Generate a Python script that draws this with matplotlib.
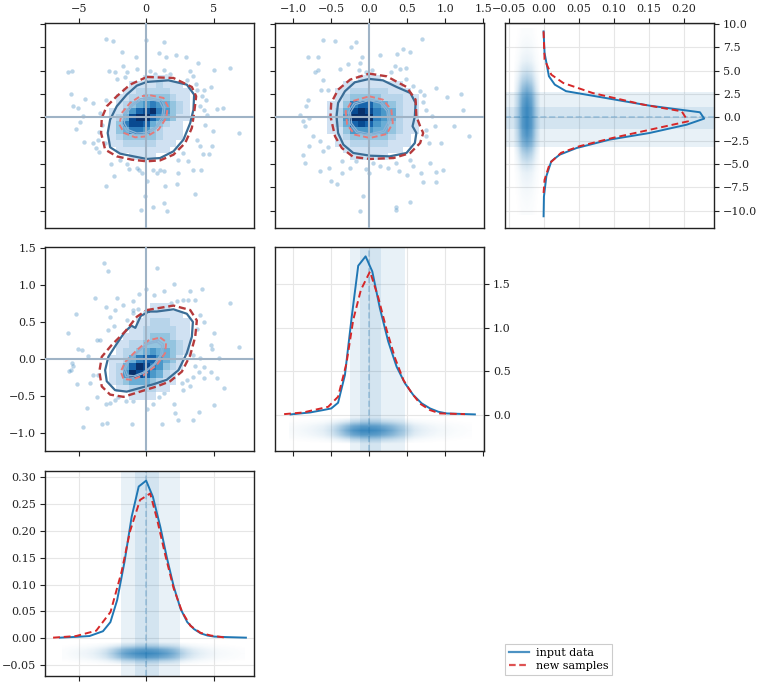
import numpy as np
import matplotlib
matplotlib.use('Agg')
import matplotlib.pyplot as plt
from matplotlib.colors import LinearSegmentedColormap
from matplotlib.lines import Line2D

plt.rcParams['font.family'] = ['DejaVu Serif']
plt.rcParams['font.size'] = 8
plt.rcParams['axes.edgecolor'] = '#222222'
plt.rcParams['axes.linewidth'] = 1.0
plt.rcParams['xtick.color'] = '#222222'
plt.rcParams['ytick.color'] = '#222222'
plt.rcParams['xtick.direction'] = 'out'
plt.rcParams['ytick.direction'] = 'out'

# ---------------- 1D marginals (bin centre, density) ----------------
A_in_x = [-6.4, -5.2, -4.2, -3.2, -2.65, -2.15, -1.6, -1.07, -0.55, 0.0, 0.5, 1.05, 1.55,
          2.05, 2.55, 3.05, 3.55, 4.05, 4.55, 5.05, 6.0, 7.4]
A_in_y = [0.001, 0.0025, 0.004, 0.013, 0.030, 0.071, 0.143, 0.227, 0.283, 0.294, 0.264, 0.208,
          0.149, 0.096, 0.055, 0.030, 0.017, 0.009, 0.005, 0.003, 0.002, 0.001]
A_new_x = [-6.9, -5.2, -3.7, -2.64, -1.82, -1.2, -0.45, 0.3, 0.8, 1.42, 2.04, 2.67, 3.29,
           4.04, 4.79, 5.9]
A_new_y = [0.001, 0.004, 0.014, 0.049, 0.124, 0.199, 0.258, 0.270, 0.223, 0.155, 0.093,
           0.049, 0.023, 0.010, 0.005, 0.001]

B_in_x = [-1.035, -0.78, -0.61, -0.50, -0.41, -0.32, -0.23, -0.145, -0.048, 0.04, 0.14, 0.25,
          0.36, 0.47, 0.58, 0.69, 0.80, 0.91, 1.02, 1.39]
B_in_y = [0.008, 0.030, 0.057, 0.076, 0.141, 0.458, 1.126, 1.706, 1.813, 1.641, 1.22, 0.84,
          0.553, 0.363, 0.229, 0.134, 0.076, 0.038, 0.019, 0.008]
B_new_x = [-1.12, -0.87, -0.54, -0.41, -0.30, -0.21, -0.11, 0.01, 0.12, 0.23, 0.34, 0.45,
           0.56, 0.67, 0.80, 0.93, 1.26]
B_new_y = [0.011, 0.030, 0.095, 0.21, 0.59, 1.09, 1.43, 1.64, 1.34, 0.97, 0.65, 0.40, 0.25,
           0.13, 0.057, 0.019, 0.011]

C_in_c = [9.2, 6.9, 4.4, 3.5, 2.8, 2.18, 1.25, 0.54, -0.14, -0.79, -1.68, -2.39, -3.29, -4.0,
          -4.71, -6.3, -8.5, -10.6]
C_in_d = [0.0, 0.0014, 0.0076, 0.016, 0.032, 0.08, 0.151, 0.223, 0.229, 0.204, 0.151, 0.094,
          0.047, 0.023, 0.011, 0.004, 0.0005, 0.0]
C_new_c = [9.2, 6.2, 4.57, 3.68, 2.6, 1.36, 0.64, -0.43, -2.2, -3.1, -3.8, -4.9, -6.7, -8.1]
C_new_d = [0.0, 0.0014, 0.011, 0.028, 0.07, 0.142, 0.197, 0.206, 0.099, 0.051, 0.025, 0.009,
           0.0014, 0.0]

# quantile bands (inner, outer) and medians
A_band_in = (-0.82, 0.97)
A_band_out = (-1.86, 2.53)
B_band_in = (-0.12, 0.16)
B_band_out = (-0.25, 0.47)
C_band_in = (-1.21, 1.07)
C_band_out = (-3.14, 2.75)
A_med, B_med, C_med = 0.0, 0.0, 0.0
truth_A, truth_B, truth_C = 0.0, 0.0, 0.0

# sample strips under the 1D curves (relative sample density on a regular grid)
strip_A_x = [-6.0, -5.5, -5.0, -4.5, -4.0, -3.5, -3.0, -2.5, -2.0, -1.5, -1.0, -0.5, 0.0, 0.5,
             1.0, 1.5, 2.0, 2.5, 3.0, 3.5, 4.0, 4.5, 5.0, 5.5, 6.0, 6.5, 7.0]
strip_A_w = [0.03, 0.05, 0.07, 0.09, 0.12, 0.18, 0.28, 0.45, 0.65, 0.8, 0.9, 0.95, 1.0, 0.95,
             0.9, 0.8, 0.65, 0.45, 0.3, 0.2, 0.14, 0.1, 0.07, 0.05, 0.04, 0.03, 0.02]
strip_A_d = [-0.050, -0.043, -0.036, -0.029, -0.022, -0.015, -0.008]
strip_B_x = [-1.0, -0.9, -0.8, -0.7, -0.6, -0.5, -0.4, -0.3, -0.2, -0.1, 0.0, 0.1, 0.2, 0.3,
             0.4, 0.5, 0.6, 0.7, 0.8, 0.9, 1.0, 1.1, 1.2, 1.3]
strip_B_w = [0.04, 0.06, 0.08, 0.11, 0.15, 0.25, 0.45, 0.7, 0.9, 1.0, 1.0, 0.95, 0.85, 0.7,
             0.5, 0.35, 0.2, 0.14, 0.1, 0.07, 0.06, 0.04, 0.03, 0.02]
strip_B_d = [-0.33, -0.28, -0.23, -0.18, -0.13, -0.08, -0.03]
strip_C_y = [-10, -9, -8, -7, -6, -5, -4, -3, -2, -1, 0, 1, 2, 3, 4, 5, 6, 7, 8, 9]
strip_C_w = [0.03, 0.04, 0.06, 0.09, 0.13, 0.25, 0.45, 0.7, 0.9, 1.0, 1.0, 1.0, 0.9, 0.7,
             0.45, 0.25, 0.13, 0.08, 0.05, 0.03]
strip_C_d = [-0.043, -0.0365, -0.030, -0.0235, -0.017, -0.0105, -0.004]
strip_profile = [0.0, 0.3, 0.8, 1.0, 0.8, 0.3, 0.0]

# ---------------- 2D histograms (rows from top, digit = relative count) ----------------
hist_AC_xedges = [-3.25, -2.75, -2.25, -1.75, -1.25, -0.75, -0.25, 0.25, 0.75, 1.25, 1.75,
                  2.25, 2.75, 3.25, 3.75]
hist_AC_yedges = [-4.55, -3.85, -3.15, -2.45, -1.75, -1.05, -0.35, 0.35, 1.05, 1.75, 2.45,
                  3.15, 3.85, 4.55]
hist_AC_rows = ["00000011110000",
                "00001111211100",
                "00011222221110",
                "00112233332110",
                "00123456543210",
                "01135789653210",
                "01248997543110",
                "01368874321100",
                "01346653211100",
                "01233333211100",
                "01122222111000",
                "00111111110000",
                "00001111000000"]

hist_BC_xedges = [-0.55, -0.45, -0.35, -0.25, -0.15, -0.05, 0.05, 0.15, 0.25, 0.35, 0.45,
                  0.55, 0.65]
hist_BC_yedges = hist_AC_yedges
hist_BC_rows = ["000011100000",
                "001111111100",
                "011222221110",
                "012333322211",
                "113677543211",
                "124898654211",
                "125999654211",
                "124787543211",
                "113555443211",
                "012333332110",
                "011222221110",
                "001111111100",
                "000111110000"]

hist_AB_xedges = hist_AC_xedges
hist_AB_yedges = [-0.55, -0.45, -0.35, -0.25, -0.15, -0.05, 0.05, 0.15, 0.25, 0.35, 0.45,
                  0.55, 0.65, 0.75]
hist_AB_rows = ["00000001110000",
                "00000011111100",
                "00000112221110",
                "00001122222110",
                "00011123332110",
                "00112233333210",
                "00122345443210",
                "01124677543100",
                "01247986532100",
                "01259875421000",
                "01234443211000",
                "00112222110000",
                "00001111000000"]

# ---------------- contours (data coordinates) ----------------
AC_blue_outer = [(0.05, 3.79), (1.66, 3.96), (3.02, 3.5), (3.56, 2.43), (3.51, 0.82),
                 (3.27, -0.61), (2.77, -2.39), (2.03, -3.64), (1.04, -4.36), (0.05, -4.46),
                 (-0.94, -4.18), (-1.93, -3.89), (-2.67, -3.21), (-2.85, -1.68), (-2.67, -0.25),
                 (-2.18, 1.18), (-1.44, 2.43), (-0.69, 3.39)]
AC_red_outer = [(0.05, 4.32), (2.03, 4.21), (3.39, 3.25), (3.71, 2.25), (3.56, 0.46),
                (3.39, -1.14), (2.9, -2.75), (2.03, -4.0), (1.04, -4.61), (0.05, -4.71),
                (-1.06, -4.54), (-2.18, -4.18), (-3.04, -3.46), (-3.34, -1.68), (-3.29, -0.07),
                (-2.92, 1.18), (-2.18, 2.25), (-1.19, 3.5)]
AC_red_inner = [(0.30, 2.36), (1.29, 2.07), (1.61, 1.18), (1.49, -0.07), (0.92, -1.32),
                (0.05, -2.04), (-0.82, -2.14), (-1.63, -1.68), (-1.98, -0.79), (-1.81, 0.46),
                (-1.19, 1.54), (-0.45, 2.25)]

BC_blue_outer = [(0.0, 4.11), (0.18, 3.96), (0.36, 3.25), (0.54, 2.61), (0.61, 1.54),
                 (0.60, 0.11), (0.57, -0.96), (0.62, -1.68), (0.60, -2.75), (0.49, -3.82),
                 (0.27, -4.18), (0.01, -4.11), (-0.21, -3.82), (-0.34, -2.93), (-0.41, -1.68),
                 (-0.43, 0.11), (-0.41, 1.54), (-0.32, 2.79), (-0.19, 3.75)]
BC_red_outer = [(0.0, 4.68), (0.23, 4.39), (0.49, 3.25), (0.61, 1.89), (0.62, 0.11),
                (0.67, -0.96), (0.71, -1.68), (0.67, -2.75), (0.54, -3.82), (0.32, -4.36),
                (0.01, -4.46), (-0.21, -4.25), (-0.36, -3.29), (-0.45, -2.04), (-0.51, 0.11),
                (-0.50, 1.54), (-0.41, 2.96), (-0.25, 4.04)]
BC_red_inner = [(0.0, 2.25), (0.18, 1.89), (0.29, 0.82), (0.31, -0.61), (0.23, -1.79),
                (0.01, -2.21), (-0.19, -1.86), (-0.29, -0.79), (-0.31, 0.64), (-0.23, 1.71)]

AB_blue_outer = [(0.2, 0.64), (0.79, 0.64), (2.03, 0.67), (3.02, 0.61), (3.47, 0.50),
                 (3.39, 0.30), (3.02, 0.08), (2.40, -0.15), (1.53, -0.28), (0.54, -0.34),
                 (-0.45, -0.39), (-1.44, -0.44), (-2.30, -0.42), (-2.92, -0.30), (-3.04, -0.15),
                 (-2.80, 0.03), (-2.2, 0.20), (-1.6, 0.36), (-1.1, 0.45), (-0.8, 0.42),
                 (-0.6, 0.50), (-0.4, 0.58)]
AB_red_outer = [(0.05, 0.66), (2.03, 0.72), (3.27, 0.66), (3.76, 0.52), (3.64, 0.30),
                (3.27, 0.05), (2.65, -0.17), (1.78, -0.30), (0.79, -0.37), (-0.45, -0.44),
                (-1.68, -0.51), (-2.67, -0.48), (-3.29, -0.37), (-3.47, -0.17), (-3.29, 0.03),
                (-2.55, 0.19), (-1.56, 0.37), (-0.69, 0.57)]
AB_red_inner = [(1.04, 0.29), (1.49, 0.23), (1.41, 0.08), (0.79, -0.08), (-0.20, -0.22),
                (-1.06, -0.28), (-1.68, -0.27), (-1.88, -0.17), (-1.56, -0.04), (-0.69, 0.12),
                (0.17, 0.25)]

# ---------------- scatter samples outside contours ----------------
AC_pts_A = [-2.97, -2.43, 0.0, 1.29, -1.81, -0.74, 0.92, 1.49, 2.23, 2.97, 3.81, -5.77, -5.52,
            -2.72, -2.30, -1.73, -1.44, -0.69, 0.30, 0.67, 1.34, 1.78, 3.27, 3.51, 5.05, 6.19,
            -2.13, -1.56, 1.49, 3.02, 3.71, 4.26, 4.80, -5.59, -4.53, -3.91, -5.40, -5.02, -4.65,
            -4.90, -5.20, -4.60, -3.91, -3.71, -3.47, -3.04, 5.25, 5.69, 4.26, 4.38, 4.50, 4.95,
            6.86, 4.01, 4.21, 4.88, 4.63, 2.77, 2.33, 3.14, 3.51, 4.08, -2.38, -1.39, -1.24,
            -0.69, -0.50, -0.32, 0.54, 0.79, 1.04, 1.34, 0.10, 2.33, 2.28, 1.41, 3.64, -3.00,
            0.54, 1.36, 1.58, -0.37, -0.05, -2.62, -1.93, 3.76, 4.18, 4.01, 4.43, -3.29, -3.47,
            -3.54, 3.76, -2.97, -3.42]
AC_pts_C = [8.39, 8.14, 8.25, 8.07, 6.96, 6.46, 6.89, 6.46, 6.71, 6.46, 5.82, 4.82, 4.93, 4.93,
            4.82, 5.46, 4.82, 5.18, 4.93, 4.68, 5.04, 4.68, 4.93, 4.39, 5.04, 5.29, 4.11, 4.32,
            4.39, 4.04, 3.61, 2.89, 3.25, 2.50, 1.96, 1.54, 1.25, 1.00, 0.18, -0.54, -1.25,
            -2.68, -2.75, -3.29, -3.75, -2.75, 0.89, 1.00, 0.82, -0.79, 0.29, -1.50, -1.68,
            -3.04, -3.93, -3.11, -3.89, -3.82, -4.54, -4.71, -5.68, -5.68, -6.25, -4.96, -5.54,
            -5.43, -5.68, -5.96, -5.68, -5.96, -5.61, -5.79, -6.86, -5.96, -7.11, -7.39, -8.18,
            -7.32, -9.61, -9.18, -10.07, -9.96, -8.46, -5.00, -4.61, 2.96, 2.25, 1.25, 1.89,
            -0.79, -1.61, -2.39, -2.39, 1.89, 0.46]

BC_pts_B = [-0.61, -0.45, -0.17, -0.24, -0.80, -0.67, -0.10, 0.14, 0.37, 0.44, 0.54, 0.70,
            -0.28, -0.12, 0.34, 0.40, 0.49, 0.29, -0.71, -0.67, -0.39, -0.14, -0.04, 0.04,
            -0.61, -0.54, -0.80, -0.83, -0.63, -0.79, -0.87, -0.91, -0.85, -0.74, -0.79, -0.65,
            -0.54, -0.61, -0.87, -0.85, -0.65, -0.53, -0.50, -0.42, -0.36, -0.25, -0.18, -0.04,
            0.0, 0.05, 0.14, 0.25, 0.35, 0.39, 0.50, 0.58, 0.68, 0.54, 0.80, 0.88, 0.97, 0.79,
            0.95, 0.75, 0.75, 0.86, 0.82, 1.12, 1.24, 1.31, 1.21, 1.02, 0.88, 0.72, 0.67, 0.71,
            0.75, 0.49, 0.58, -0.08, -0.12, 0.35, 0.35, 0.54, 0.71, 0.88, -0.36]
BC_pts_C = [8.25, 8.14, 8.04, 7.54, 6.46, 6.46, 6.46, 6.71, 6.82, 7.32, 6.96, 8.39, 5.75,
            5.82, 5.54, 5.18, 5.29, 4.82, 4.82, 5.11, 5.18, 5.11, 4.82, 5.04, 4.04, 2.89, 1.89,
            1.25, 2.96, -0.07, -0.43, 0.29, -0.89, -2.04, -3.11, -2.57, -3.18, -3.64, -4.00,
            -4.89, -5.79, -5.43, -6.86, -7.14, -5.96, -5.43, -4.71, -5.54, -5.96, -4.89, -5.18,
            -5.43, -4.89, -5.79, -6.14, -5.18, -5.96, -4.54, -4.89, -5.89, -5.68, -2.75, -2.75,
            -2.04, -1.32, -0.96, 0.18, -0.89, 0.82, -1.96, 2.50, 2.14, 3.14, 2.43, 2.79, 1.61,
            0.82, 4.11, 3.39, -8.46, -10.07, -9.61, -9.89, -9.11, -6.96, -6.96, -4.71]

AB_pts_A = [-3.12, -2.80, 0.84, -0.50, 0.0, 0.59, 1.34, 2.03, 3.27, 4.13, -3.79, -2.97, -2.18,
            -0.99, -1.68, -0.57, 1.83, 2.28, 2.72, 3.14, 3.64, 6.19, -5.20, -5.77, -3.66, -3.42,
            -2.80, -2.38, -1.44, -0.94, 4.01, 4.26, 3.76, 5.00, 4.80, 4.88, 6.86, -4.33, -5.02,
            -4.78, -5.52, -5.45, -5.59, -5.10, -4.16, -3.91, -3.54, -3.61, -2.97, -2.67, -2.30,
            -2.05, -1.49, -0.94, -0.64, -0.07, 0.05, 0.54, 0.92, 1.29, 2.03, 2.15, 2.40, 2.77,
            3.27, 3.51, 3.89, 4.31, 4.80, 5.25, 5.74, 5.00, 3.47, 3.89, 1.16, -1.06, -3.29,
            -2.87, -4.70, -4.41, -5.69, 3.02, 2.65, 3.64, 4.31, 4.01, 3.51, 5.37, -2.30, -2.67,
            -0.99]
AB_pts_B = [1.29, 1.19, 1.23, 0.87, 0.95, 0.86, 0.92, 1.01, 0.92, 0.95, 0.82, 0.70, 0.82,
            0.78, 0.73, 0.68, 0.76, 0.78, 0.79, 0.80, 0.80, 0.76, 0.61, 0.35, 0.26, 0.26, 0.39,
            0.44, 0.52, 0.66, 0.59, 0.50, 0.41, 0.35, 0.19, 0.14, 0.16, 0.04, 0.14, 0.12, -0.05,
            -0.09, -0.15, -0.34, -0.33, -0.22, -0.22, -0.51, -0.61, -0.59, -0.55, -0.51, -0.56,
            -0.56, -0.51, -0.44, -0.67, -0.60, -0.51, -0.46, -0.61, -0.73, -0.82, -0.42, -0.37,
            -0.24, -0.18, -0.25, -0.17, -0.25, -0.39, -0.62, -0.82, -0.71, -0.87, -0.87, -0.87,
            -0.86, -0.92, -0.66, -0.16, -0.28, -0.33, -0.10, -0.11, 0.01, 0.05, 0.02, 0.66, 0.57,
            0.62]

# ---------------- axis ranges / ticks ----------------
A_lim = (-7.5, 8.0)
B_lim = (-1.24, 1.51)
C_lim = (-11.8, 10.1)
dA_lim = (-0.070, 0.312)
dB_lim = (-0.41, 1.92)
dC_lim = (-0.055, 0.243)
A_ticks = [-5, 0, 5]
B_ticks = [-1.0, -0.5, 0.0, 0.5, 1.0, 1.5]
C_ticks = [-10, -7.5, -5, -2.5, 0, 2.5, 5, 7.5, 10]
dA_ticks = [-0.05, 0.0, 0.05, 0.10, 0.15, 0.20, 0.25, 0.30]
dB_ticks = [0.0, 0.5, 1.0, 1.5]
dC_ticks = [-0.05, 0.0, 0.05, 0.10, 0.15, 0.20]

# ---------------- styling ----------------
BLUE = '#1f77b4'
RED = '#d62728'
C_BLUE_OUT = '#3a6d96'
C_BLUE_IN = '#8cb4d6'
C_RED_OUT = '#b63a3b'
C_RED_IN = '#e57a7a'
CROSS = '#9fb3c6'
GRID = '#e6e6e6'

W, H = 759, 686
fig = plt.figure(figsize=(W / 100, H / 100), dpi=100)


def add(l, t, r, b):
    return fig.add_axes([l / W, 1 - b / H, (r - l) / W, (b - t) / H])


ax00 = add(45, 23, 254, 227.5)
ax01 = add(275, 23, 484, 227.5)
ax02 = add(505, 23, 714, 227.5)
ax10 = add(45, 247, 254, 451)
ax11 = add(275, 247, 484, 451)
ax20 = add(45, 471, 254, 675.7)

strip_cmap = LinearSegmentedColormap.from_list(
    'strip', [(0.12, 0.47, 0.71, 0.0), (0.12, 0.47, 0.71, 0.85)])


def closed(vs):
    arr = np.array(list(vs) + [vs[0]])
    return arr[:, 0], arr[:, 1]


def panel2d(ax, xe, ye, rows, px, py, blue_out, red_out, red_in, tx, ty):
    ax.scatter(px, py, s=10, color=BLUE, alpha=0.3, linewidths=0, zorder=0.5)
    Z = np.array([[int(c) for c in r] for r in rows[::-1]], dtype=float)
    Z = np.ma.masked_equal(Z, 0)
    ax.pcolormesh(xe, ye, Z, cmap='Blues', vmin=-1, vmax=9, zorder=1)
    x, y = closed(blue_out)
    ax.plot(x, y, color=C_BLUE_OUT, lw=1.6, zorder=3)
    x, y = closed(red_out)
    ax.plot(x, y, color=C_RED_OUT, lw=1.7, ls=(0, (3, 1.6)), zorder=3)
    ri = np.array(red_in)
    cen = ri.mean(axis=0)
    for f in (0.88, 0.8):
        x, y = closed([tuple(cen + f * (v - cen)) for v in ri])
        ax.plot(x, y, color=C_BLUE_IN, lw=0.9, zorder=3)
    x, y = closed(red_in)
    ax.plot(x, y, color=C_RED_IN, lw=1.4, ls=(0, (3, 1.6)), zorder=3)
    ax.axvline(tx, color=CROSS, lw=1.5, zorder=4)
    ax.axhline(ty, color=CROSS, lw=1.5, zorder=4)


panel2d(ax00, hist_AC_xedges, hist_AC_yedges, hist_AC_rows, AC_pts_A, AC_pts_C,
        AC_blue_outer, AC_red_outer, AC_red_inner, truth_A, truth_C)
panel2d(ax01, hist_BC_xedges, hist_BC_yedges, hist_BC_rows, BC_pts_B, BC_pts_C,
        BC_blue_outer, BC_red_outer, BC_red_inner, truth_B, truth_C)
panel2d(ax10, hist_AB_xedges, hist_AB_yedges, hist_AB_rows, AB_pts_A, AB_pts_B,
        AB_blue_outer, AB_red_outer, AB_red_inner, truth_A, truth_B)

ax00.set_xlim(*A_lim); ax00.set_ylim(*C_lim)
ax01.set_xlim(*B_lim); ax01.set_ylim(*C_lim)
ax10.set_xlim(*A_lim); ax10.set_ylim(*B_lim)
for ax, xt, yt in ((ax00, A_ticks, C_ticks), (ax01, B_ticks, C_ticks), (ax10, A_ticks, B_ticks)):
    ax.set_xticks(xt); ax.set_yticks(yt)
ax00.xaxis.tick_top(); ax01.xaxis.tick_top()
ax00.tick_params(labelleft=False)
ax01.tick_params(labelleft=False)
ax10.tick_params(labelbottom=False)


def strip_image(ax, Z, xs, ys):
    dx = (xs[-1] - xs[0]) / (len(xs) - 1)
    dy = (ys[-1] - ys[0]) / (len(ys) - 1)
    ax.imshow(Z, origin='lower', aspect='auto', interpolation='bilinear', cmap=strip_cmap,
              vmin=0, vmax=1, zorder=1,
              extent=(xs[0] - dx / 2, xs[-1] + dx / 2, ys[0] - dy / 2, ys[-1] + dy / 2))


# ---------------- 1D panels ----------------
def horiz1d(ax, band_in, band_out, med, xin, yin, xnew, ynew, sx, sw, sd):
    ax.grid(True, color=GRID, lw=0.8, zorder=0)
    ax.set_axisbelow(True)
    ax.axvspan(*band_out, color=BLUE, alpha=0.1, lw=0, zorder=0.6)
    ax.axvspan(*band_in, color=BLUE, alpha=0.1, lw=0, zorder=0.6)
    strip_image(ax, np.outer(strip_profile, sw), sx, sd)
    ax.axvline(med, color=BLUE, alpha=0.3, lw=1.2, ls='--', zorder=1.5)
    ax.plot(xin, yin, color=BLUE, lw=1.4, zorder=3)
    ax.plot(xnew, ynew, color=RED, lw=1.4, ls=(0, (3.5, 2)), zorder=3)


horiz1d(ax20, A_band_in, A_band_out, A_med, A_in_x, A_in_y, A_new_x, A_new_y,
        strip_A_x, strip_A_w, strip_A_d)
ax20.set_xlim(*A_lim); ax20.set_ylim(*dA_lim)
ax20.set_xticks(A_ticks); ax20.set_yticks(dA_ticks)
ax20.tick_params(labelbottom=False)

horiz1d(ax11, B_band_in, B_band_out, B_med, B_in_x, B_in_y, B_new_x, B_new_y,
        strip_B_x, strip_B_w, strip_B_d)
ax11.set_xlim(*B_lim); ax11.set_ylim(*dB_lim)
ax11.set_xticks(B_ticks); ax11.set_yticks(dB_ticks)
ax11.yaxis.tick_right()
ax11.tick_params(labelbottom=False)

# vertical marginal for C
ax = ax02
ax.grid(True, color=GRID, lw=0.8, zorder=0)
ax.set_axisbelow(True)
ax.axhspan(*C_band_out, color=BLUE, alpha=0.1, lw=0, zorder=0.6)
ax.axhspan(*C_band_in, color=BLUE, alpha=0.1, lw=0, zorder=0.6)
strip_image(ax, np.outer(strip_C_w, strip_profile), strip_C_d, strip_C_y)
ax.axhline(C_med, color=BLUE, alpha=0.3, lw=1.2, ls='--', zorder=1.5)
ax.plot(C_in_d, C_in_c, color=BLUE, lw=1.4, zorder=3)
ax.plot(C_new_d, C_new_c, color=RED, lw=1.4, ls=(0, (3.5, 2)), zorder=3)
ax.set_xlim(*dC_lim); ax.set_ylim(*C_lim)
ax.set_xticks(dC_ticks); ax.set_yticks(C_ticks)
ax.xaxis.tick_top(); ax.yaxis.tick_right()

for a in (ax00, ax01, ax02, ax10, ax11, ax20):
    a.tick_params(length=3.5, width=0.8, labelsize=8, pad=3)

handles = [Line2D([], [], color=BLUE, lw=1.6, alpha=0.8),
           Line2D([], [], color=RED, lw=1.6, alpha=0.8, ls=(0, (3, 1.6)))]
leg = fig.legend(handles, ['input data', 'new samples'], loc='lower left',
                 bbox_to_anchor=(505 / W, 1 - 675 / H), borderaxespad=0, fancybox=False,
                 edgecolor='#cccccc', framealpha=1, fontsize=8, handlelength=1.8,
                 handletextpad=0.6, labelspacing=0.25, borderpad=0.35)
leg.get_frame().set_linewidth(0.8)

fig.savefig('out.png', dpi=100)
